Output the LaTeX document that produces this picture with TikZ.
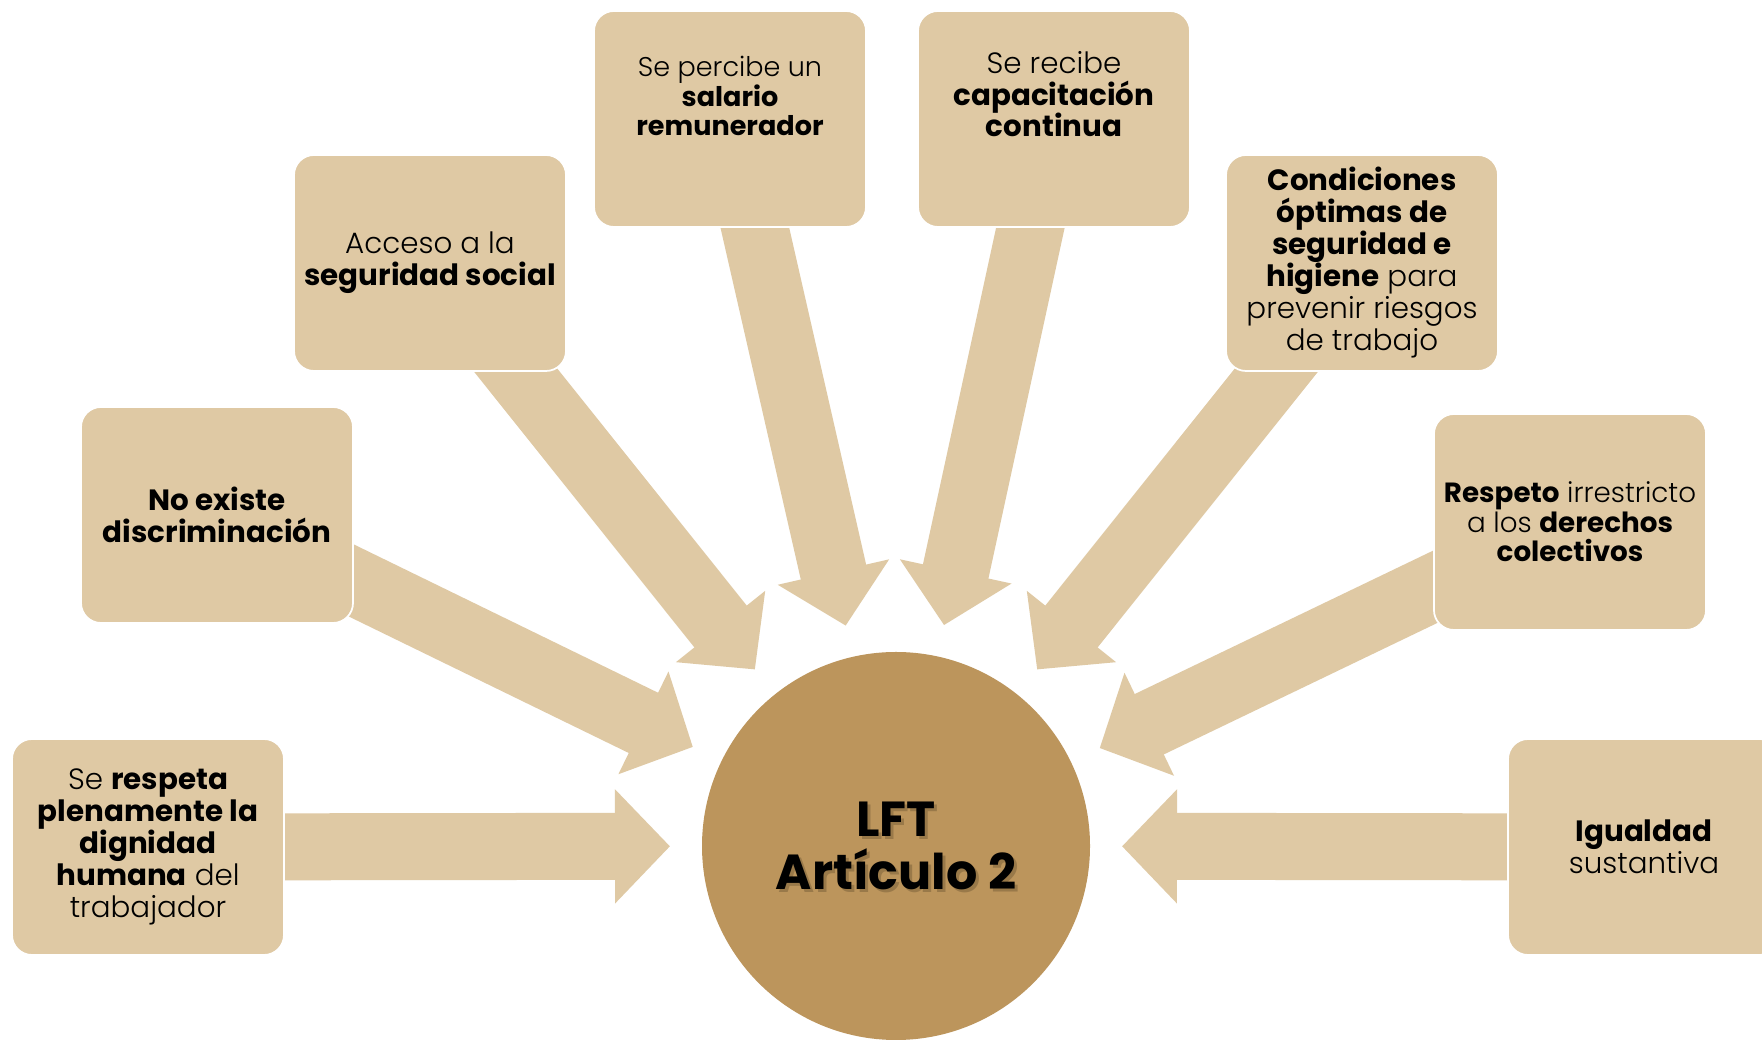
\documentclass[tikz,border=0pt]{standalone}
\usepackage{fontspec}
\setmainfont{Poppins}[UprightFont=* Light, BoldFont=* Bold]
\usetikzlibrary{arrows.meta}
\usetikzlibrary{backgrounds}

\definecolor{beige}{RGB}{223,201,164}
\definecolor{gold}{RGB}{188,149,92}
\definecolor{shadowBrown}{RGB}{90,70,40}

\begin{document}
\begin{tikzpicture}[
        box/.style = {fill=beige,draw=white,line width=0.5pt,rounded corners=2mm,minimum width=2.72cm,minimum height=2.16cm,align=center,inner sep=1mm,font=\fontsize{8.35}{9.1}\selectfont},
        boxTop/.style = {box,text depth=5mm}, % text sits higher in the two top boxes
        boxSmall/.style = {box,font=\fontsize{7.9}{8.4}\selectfont},
        hub/.style = {shape=circle,fill=gold,minimum size=3.88cm,inner sep=0pt},
        hubText/.style = {align=center,font=\bfseries\fontsize{14}{15.2}\selectfont},
        bigArrow/.style = {line width=6.7mm,draw=beige,-{Triangle[length=5.5mm,width=11.1mm]},shorten >=22.6mm}
        ]
        \useasboundingbox (0,0) rectangle (17.62,10.40);

        % centre
        \node[hub] (lft) at (8.96,1.94) {};
        \node[hubText,text=shadowBrown,text opacity=0.35] (lftShadow) at ([shift={(0.3mm,-0.3mm)}]lft) {LFT\\Artículo 2};
        \node[hubText] (lftText) at (lft) {LFT\\Artículo 2};

        % boxes around it
        \node[box] (dignidad) at (1.48,1.93) {Se \textbf{respeta}\\\textbf{plenamente la}\\\textbf{dignidad}\\\textbf{humana} del\\trabajador};
        \node[box] (discrim) at (2.17,5.25) {\textbf{No existe}\\\textbf{discriminación}};
        \node[box] (seguridad) at (4.30,7.77) {Acceso a la\\\textbf{seguridad social}};
        \node[boxTop,text depth=4.6mm,font=\fontsize{7.7}{8.3}\selectfont] (salario) at (7.30,9.21) {Se percibe un\\\textbf{salario}\\\textbf{remunerador}};
        \node[boxTop] (capacitacion) at (10.54,9.21) {Se recibe\\\textbf{capacitación}\\\textbf{continua}};
        \node[box] (higiene) at (13.62,7.77) {\textbf{Condiciones}\\\textbf{óptimas de}\\\textbf{seguridad e}\\\textbf{higiene} para\\prevenir riesgos\\de trabajo};
        \node[boxSmall] (colectivos) at (15.70,5.18) {\textbf{Respeto} irrestricto\\a los \textbf{derechos}\\\textbf{colectivos}};
        \node[box] (igualdad) at (16.44,1.93) {\textbf{Igualdad}\\sustantiva};

        \begin{pgfonlayer}{background}
            \fill[white] (0,0) rectangle (17.62,10.40);
            \foreach \src in {dignidad,discrim,seguridad,salario,capacitacion,higiene,colectivos,igualdad}
                \draw[bigArrow] (\src.center) -- (lft.center);
        \end{pgfonlayer}
\end{tikzpicture}
\end{document}
